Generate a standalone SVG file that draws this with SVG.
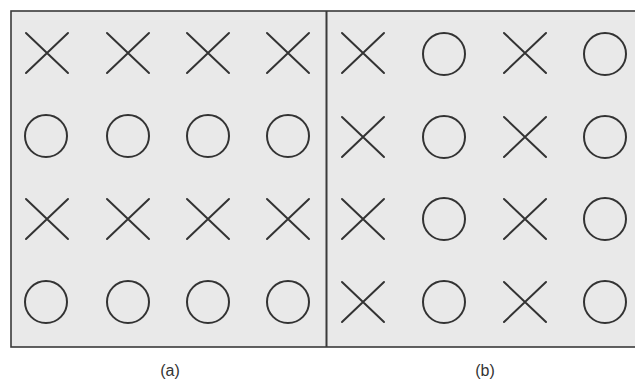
<svg xmlns="http://www.w3.org/2000/svg" xmlns:xlink="http://www.w3.org/1999/xlink" width="635" height="381" viewBox="0 0 635 381">
<style>
.panel{fill:#e9e9e9;stroke:#3a3a3a;stroke-width:1.6}
.mk{fill:none;stroke:#333;stroke-width:2;stroke-linecap:round}
.lbl{font-family:"Liberation Sans",Arial,sans-serif;font-size:16px;fill:#333;text-anchor:middle}
</style>
<defs>
<g id="X"><path class="mk" d="M-21,-20 L21,20 M21,-20 L-21,20"/></g>
<g id="O"><circle class="mk" r="21"/></g>
</defs>
<rect width="635" height="381" fill="#fff"/>
<g id="panels">
<rect class="panel" x="11" y="11" width="640" height="336"/>
<line x1="326.5" y1="11" x2="326.5" y2="347" stroke="#3a3a3a" stroke-width="2"/>
</g>
<g id="panel-a">
<use href="#X" x="47" y="53"/><use href="#X" x="128" y="53"/><use href="#X" x="208" y="53"/><use href="#X" x="288" y="53"/>
<use href="#O" x="46" y="136"/><use href="#O" x="128" y="136"/><use href="#O" x="208" y="136"/><use href="#O" x="288" y="136"/>
<use href="#X" x="47" y="219"/><use href="#X" x="128" y="219"/><use href="#X" x="208" y="219"/><use href="#X" x="288" y="219"/>
<use href="#O" x="46" y="302"/><use href="#O" x="128" y="302"/><use href="#O" x="208" y="302"/><use href="#O" x="288" y="302"/>
</g>
<g id="panel-b">
<use href="#X" x="363" y="53"/><use href="#O" x="444" y="54"/><use href="#X" x="525" y="53"/><use href="#O" x="605" y="54"/>
<use href="#X" x="363" y="137"/><use href="#O" x="444" y="137"/><use href="#X" x="525" y="137"/><use href="#O" x="605" y="137"/>
<use href="#X" x="363" y="219"/><use href="#O" x="444" y="219"/><use href="#X" x="525" y="219"/><use href="#O" x="605" y="219"/>
<use href="#X" x="363" y="302"/><use href="#O" x="444" y="302"/><use href="#X" x="525" y="302"/><use href="#O" x="605" y="302"/>
</g>
<g id="connectors"/>
<text class="lbl" x="170" y="376">(a)</text>
<text class="lbl" x="485" y="376">(b)</text>
</svg>
